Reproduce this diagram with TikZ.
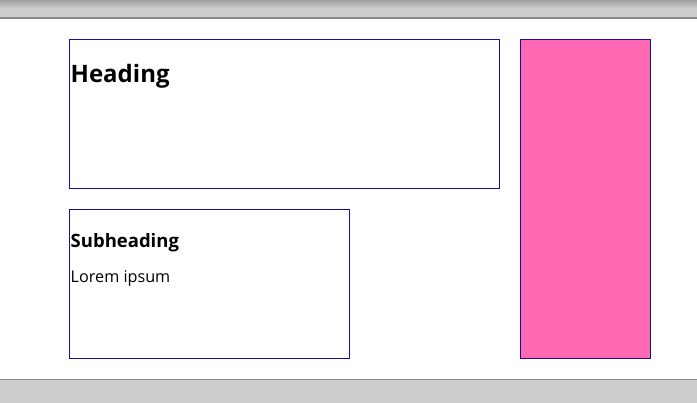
\documentclass[tikz,border=0pt]{standalone}
\usepackage{fontspec}
\setmainfont{Open Sans}
\definecolor{frame}{HTML}{1A0AA0}
\definecolor{pinkfill}{HTML}{FF69B4}
\definecolor{barfill}{HTML}{CCCCCC}
\definecolor{barline}{HTML}{8A8A8A}
\begin{document}
\begin{tikzpicture}[x=1pt,y=-1pt,
  panel/.style={draw=frame,line width=0.9pt,inner sep=0pt,anchor=north west},
  txt/.style={anchor=base west,inner sep=0pt,text=black}]
\useasboundingbox (0,0) rectangle (697,403);
\fill[white] (0,0) rectangle (697,403);
% top bar
\shade[top color=gray!75,bottom color=barfill] (0,0) rectangle (697,8);
\fill[barfill] (0,8) rectangle (697,18);
\draw[barline,line width=1.2pt] (0,18) -- (697,18);
% bottom bar
\fill[barfill] (0,379) rectangle (697,403);
\draw[barline,line width=1.2pt] (0,379.5) -- (697,379.5);
% boxes
\node[panel,minimum width=430,minimum height=149] (main) at (69,39) {};
\node[panel,minimum width=280,minimum height=149] (sub) at (69,209) {};
\node[panel,fill=pinkfill,minimum width=130,minimum height=319] (side) at (520,39) {};
\node[txt,font=\fontsize{24}{28}\selectfont\bfseries] (h) at (70.5,83) {Heading};
\node[txt,font=\fontsize{18.5}{22}\selectfont\bfseries] (sh) at (70.5,247.5) {Subheading};
\node[txt,font=\fontsize{16.2}{19}\selectfont] (lp) at (70.5,283) {Lorem ipsum};
\end{tikzpicture}
\end{document}
